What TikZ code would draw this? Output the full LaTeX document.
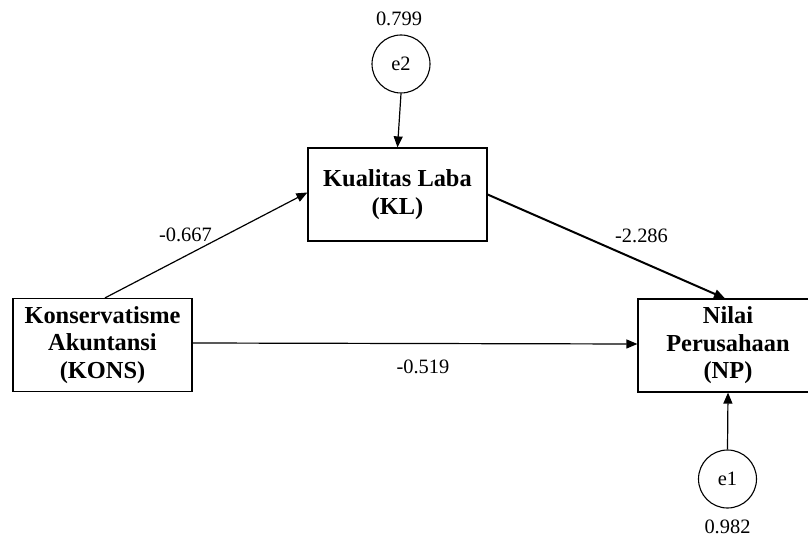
\documentclass[tikz,border=0pt]{standalone}
\usepackage{fontspec}
\setmainfont{Liberation Serif}
\usetikzlibrary{arrows.meta}
\begin{document}
\begin{tikzpicture}[x=1bp,y=-1bp,
  box/.style={draw,line width=1.2bp,minimum width=179bp,minimum height=93bp,inner sep=0pt,
    align=center,font=\fontsize{24.5}{27.5}\selectfont\bfseries},
  err/.style={draw,circle,line width=1.1bp,minimum size=58bp,inner sep=0pt,font=\fontsize{20.5}{22}\selectfont},
  lbl/.style={font=\fontsize{20.5}{22}\selectfont,inner sep=0pt},
  arr/.style={line width=1.2bp,-{Triangle[length=11bp,width=9bp]}},
  thick arr/.style={line width=2bp,-{Triangle[length=11bp,width=9bp]}}]
\useasboundingbox (0,0) rectangle (808,538);
\begin{scope}
\clip (0,0) rectangle (808,538);
\node[box] (KL) at (397.5,194.5) {Kualitas Laba\\(KL)};
\node[box] (KONS) at (102.5,345) {Konservatisme\\Akuntansi\\(KONS)};
\node[box,minimum width=180bp] (NP) at (728,345.5) {Nilai\\Perusahaan\\(NP)};
\end{scope}
\node[err] (e2) at (401,64) {e2};
\node[err] (e1) at (727.5,479) {e1};
\node[lbl] (v2) at (399,19) {0.799};
\node[lbl] (v1) at (727.5,527) {0.982};
\draw[arr] (e2.south) -- (KL.north);
\draw[arr] (e1.north) -- (NP.south);
\draw[arr] ([xshift=2.5bp]KONS.north) -- ([yshift=2bp]KL.west);
\draw[thick arr] (KL.east) -- ([xshift=-3bp]NP.north);
\draw[arr] ([yshift=2bp]KONS.east) -- ([yshift=1.5bp]NP.west);
\node[lbl] (l1) at (185.5,235) {-0.667};
\node[lbl] (l2) at (641.5,236) {-2.286};
\node[lbl] (l3) at (423,367) {-0.519};
\end{tikzpicture}
\end{document}
